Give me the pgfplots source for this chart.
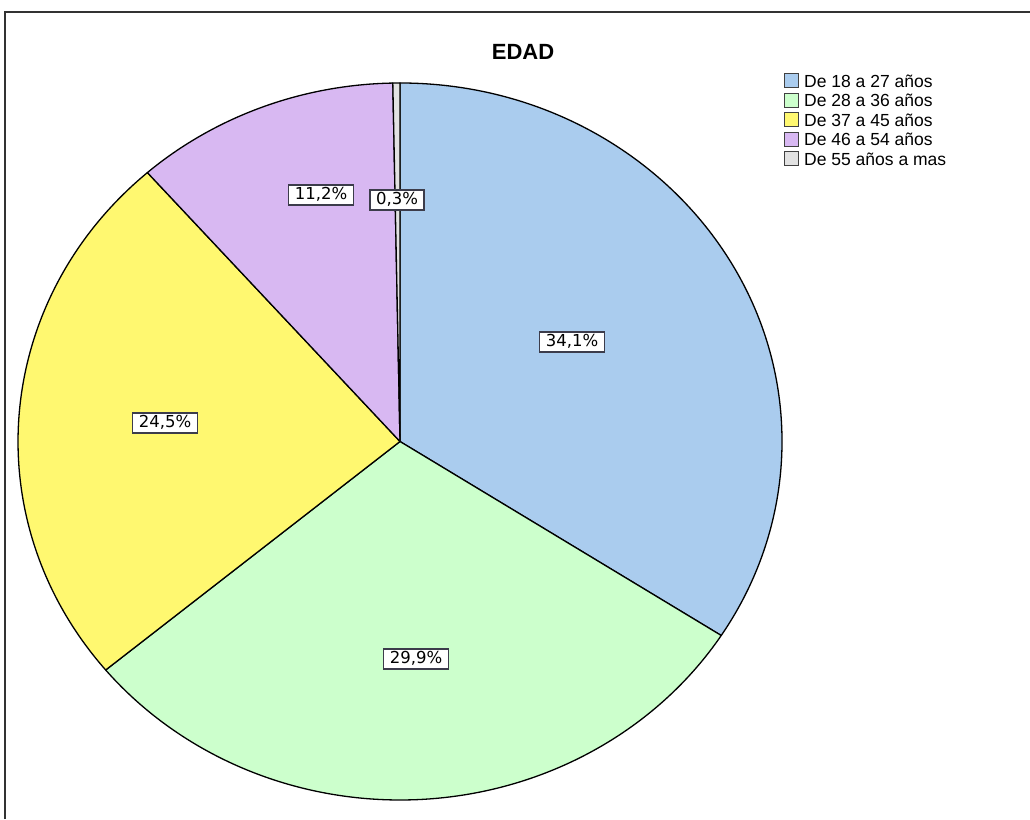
\documentclass[border=0pt]{standalone}
\usepackage{fontspec}
\setmainfont{Liberation Sans}
\newfontfamily\labelfont{DejaVu Sans}
\usepackage{pgfplots}
\pgfplotsset{compat=1.18}

\definecolor{cA}{RGB}{170,204,238}
\definecolor{cB}{RGB}{204,255,204}
\definecolor{cC}{RGB}{255,248,112}
\definecolor{cD}{RGB}{216,184,242}
\definecolor{cE}{RGB}{226,226,226}
\definecolor{framegray}{RGB}{50,50,50}
\definecolor{boxgray}{RGB}{60,60,75}

% Age-group shares (%), drawn clockwise from 12 o'clock
\def\vA{34.1}\def\vB{29.9}\def\vC{24.5}\def\vD{11.2}\def\vE{0.3}
\pgfmathsetmacro{\tA}{90}
\pgfmathsetmacro{\tB}{\tA-3.6*\vA}
\pgfmathsetmacro{\tC}{\tB-3.6*\vB}
\pgfmathsetmacro{\tD}{\tC-3.6*\vC}
\pgfmathsetmacro{\tE}{\tD-3.6*\vD}
\pgfmathsetmacro{\tF}{\tE-3.6*\vE}

% pie centre and radii in axis units (1 unit = 1bp)
\def\cx{400}\def\cy{377.5}\def\rx{382}\def\ry{358.5}

\newcommand{\slice}[3]{%
  \filldraw[fill=#3, draw=black, line width=1.3bp, line join=round]
    (axis cs:\cx,\cy) -- (axis cs:{\cx+\rx*cos(#1)},{\cy+\ry*sin(#1)})
    arc[start angle=#1, end angle=#2, x radius=\rx bp, y radius=\ry bp] -- cycle;}

\newcommand{\legrow}[3]{% row centre (from top), colour, text
  \filldraw[fill=#2, draw=black!75, line width=1bp]
    (axis cs:784,{819-#1-7}) rectangle (axis cs:798,{819-#1+7});
  \node[anchor=west, inner sep=0pt, font=\fontsize{17.5bp}{20bp}\selectfont]
    at (axis cs:804,{819-#1}) {#3};}

\tikzset{pct/.style={draw=boxgray, fill=white, line width=1.1bp,
  inner xsep=6bp, inner ysep=2.5bp, text height=12bp, text depth=3bp,
  font=\labelfont\fontsize{16.5bp}{18bp}\selectfont}}

\begin{document}
\begin{tikzpicture}
\begin{axis}[
  scale only axis, width=1030bp, height=819bp,
  xmin=0, xmax=1030, ymin=0, ymax=819,
  hide axis, ticks=none, clip=false]

  % outer frame
  \draw[framegray, line width=1.6bp, line cap=butt]
    (axis cs:5,0) -- (axis cs:5,807) -- (axis cs:1030,807);

  % title
  \node[font=\bfseries\fontsize{22bp}{26bp}\selectfont] at (axis cs:523,767) {EDAD};

  % slices
  \slice{\tA}{\tB}{cA}
  \slice{\tB}{\tC}{cB}
  \slice{\tC}{\tD}{cC}
  \slice{\tD}{\tE}{cD}
  \slice{\tE}{\tF}{cE}

  % value labels
  \node[pct] at (axis cs:572,477) {34,1\%};
  \node[pct] at (axis cs:416,160) {29,9\%};
  \node[pct] at (axis cs:165,396) {24,5\%};
  \node[pct] at (axis cs:321,624) {11,2\%};
  \node[pct] at (axis cs:397,619) {0,3\%};

  % legend
  \legrow{81}{cA}{De 18 a 27 años}
  \legrow{100.5}{cB}{De 28 a 36 años}
  \legrow{120}{cC}{De 37 a 45 años}
  \legrow{139.5}{cD}{De 46 a 54 años}
  \legrow{159}{cE}{De 55 años a mas}
\end{axis}
\pgfresetboundingbox
\path (current axis.south west) rectangle (current axis.north east);
\end{tikzpicture}
\end{document}
